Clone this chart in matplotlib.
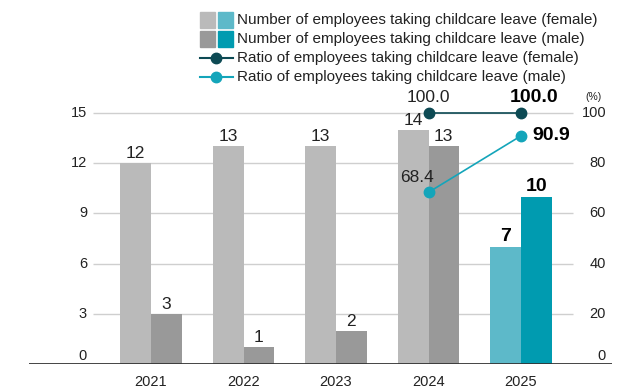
import matplotlib
matplotlib.use("Agg")
import matplotlib.pyplot as plt
from matplotlib.patches import Rectangle
from matplotlib.lines import Line2D

plt.rcParams['font.family'] = ['Liberation Sans', 'DejaVu Sans']

years = ['2021', '2022', '2023', '2024', '2025']
female_count = [12, 13, 13, 14, 7]
male_count = [3, 1, 2, 13, 10]
ratio_years = [3, 4]
female_ratio = [100.0, 100.0]
male_ratio = [68.4, 90.9]
left_ticks = [0, 3, 6, 9, 12, 15]
right_ticks = [0, 20, 40, 60, 80, 100]

legend_labels = [
    'Number of employees taking childcare leave (female)',
    'Number of employees taking childcare leave (male)',
    'Ratio of employees taking childcare leave (female)',
    'Ratio of employees taking childcare leave (male)',
]

GRAY_F = '#bababa'
GRAY_M = '#999999'
TEAL_F = '#5db9c9'
TEAL_M = '#009bb0'
LINE_F = '#0d4a54'
LINE_M = '#14a5ba'
GRID = '#cfcfcf'
TXT = '#222222'

W, H = 636, 389
fig = plt.figure(figsize=(W / 100, H / 100), dpi=100)


def fx(p):
    return p / W


def fy(p):
    return 1 - p / H


# plot area: x pixel 29..612, y pixel 364 (zero) .. 100
ax = fig.add_axes([fx(29), fy(364), (612 - 29) / W, (364 - 100) / H])
x0, step = 151, 92.5
ax.set_xlim((29 - x0) / step, (612 - x0) / step)
top = 15 * 264 / 251
ax.set_ylim(0, top)
for s in ax.spines.values():
    s.set_visible(False)
ax.set_xticks([])
ax.set_yticks([])

grid_l, grid_r = (93 - x0) / step, (573 - x0) / step
ax.hlines(left_ticks[1:], grid_l, grid_r, color=GRID, lw=1, zorder=1)
ax.axhline(0, color='#333333', lw=2, zorder=4)

bw = 0.33
xs = list(range(len(years)))
cf = [GRAY_F] * 4 + [TEAL_F]
cm = [GRAY_M] * 4 + [TEAL_M]
ax.bar([x - bw / 2 for x in xs], female_count, bw, color=cf, zorder=2)
ax.bar([x + bw / 2 for x in xs], male_count, bw, color=cm, zorder=2)

for i, (f, m) in enumerate(zip(female_count, male_count)):
    bold = i == len(years) - 1
    kw = dict(ha='center', va='bottom', color='black' if bold else TXT,
              fontsize=14 if bold else 12.5,
              fontweight='bold' if bold else 'normal', zorder=5)
    ax.text(i - bw / 2, f + 0.12, str(f), **kw)
    ax.text(i + bw / 2, m + 0.12, str(m), **kw)

# axis labels
for v in left_ticks:
    ax.text((87 - x0) / step, max(v, 0.48), str(v), ha='right', va='center',
            fontsize=10.5, color=TXT)
for i, y in enumerate(years):
    ax.text(i, -1.08, y, ha='center', va='center', fontsize=10.5, color=TXT)

ax2 = ax.twinx()
ax2.set_ylim(0, 100 * 264 / 251)
for s in ax2.spines.values():
    s.set_visible(False)
ax2.set_yticks([])
for v in right_ticks:
    ax2.text((606 - x0) / step, max(v, 3.2), str(v), ha='right', va='center',
             fontsize=10.5, color=TXT)
ax2.text((593 - x0) / step, 106.5, '(%)', ha='center', va='center',
         fontsize=7.5, color=TXT)

ax2.plot(ratio_years, female_ratio, color=LINE_F, lw=1.2, marker='o',
         ms=7.5, zorder=6)
ax2.plot(ratio_years, male_ratio, color=LINE_M, lw=1.2, marker='o',
         ms=7.5, zorder=6)

ax2.text(ratio_years[0], female_ratio[0] + 6, f'{female_ratio[0]:.1f}',
         ha='center', va='center', fontsize=12.5, color=TXT)
ax2.text(ratio_years[1] + 0.14, female_ratio[1] + 6, f'{female_ratio[1]:.1f}',
         ha='center', va='center', fontsize=14, fontweight='bold')
ax2.text(ratio_years[0] - 0.12, male_ratio[0] + 6, f'{male_ratio[0]:.1f}',
         ha='center', va='center', fontsize=12.5, color=TXT)
ax2.text(ratio_years[1] + 0.12, male_ratio[1], f'{male_ratio[1]:.1f}',
         ha='left', va='center', fontsize=14, fontweight='bold')

# legend, drawn by hand in figure pixels
rows = [20, 39, 58, 77]
sq = 15
for y, (c1, c2) in zip(rows[:2], [(GRAY_F, TEAL_F), (GRAY_M, TEAL_M)]):
    for xl, c in ((200, c1), (218, c2)):
        fig.add_artist(Rectangle((fx(xl), fy(y + sq / 2)), sq / W, sq / H,
                                 transform=fig.transFigure, color=c))
for y, c in zip(rows[2:], [LINE_F, LINE_M]):
    fig.add_artist(Line2D([fx(200), fx(233)], [fy(y), fy(y)],
                          transform=fig.transFigure, color=c, lw=1.5))
    fig.add_artist(Line2D([fx(216)], [fy(y)], transform=fig.transFigure,
                          color=c, marker='o', ms=7.5, lw=0))
for y, lab in zip(rows, legend_labels):
    fig.text(fx(237), fy(y), lab, ha='left', va='center', fontsize=11,
             color=TXT)

fig.savefig('out.png', dpi=100)
